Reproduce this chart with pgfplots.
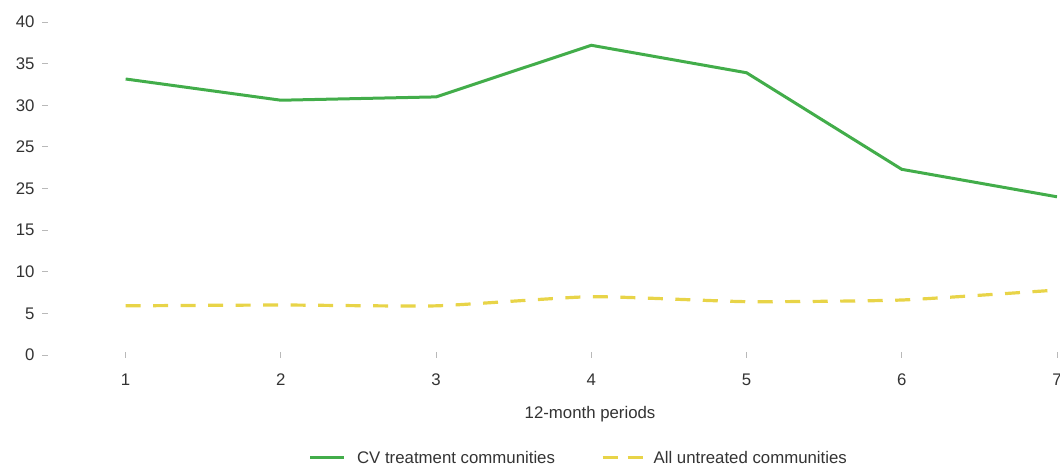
\documentclass[border=0pt]{standalone}
\usepackage{pgfplots}
\pgfplotsset{compat=1.18}
\usepackage{fontspec}
\setmainfont{Liberation Sans}
\definecolor{cvgreen}{RGB}{66,173,74}
\definecolor{untreated}{RGB}{232,212,72}
\definecolor{txt}{RGB}{51,51,51}
\definecolor{tickgray}{RGB}{185,185,185}

\begin{document}
\begin{tikzpicture}
\begin{axis}[
    scale only axis,
    width=1009pt, height=333pt,
    xmin=0.5, xmax=7, ymin=0, ymax=40,
    clip=false,
    axis lines*=left,
    axis line style={draw=none},
    xtick={1,...,7},
    ytick={0,5,...,40},
    yticklabels={0,5,10,15,25,25,30,35,40},
    /pgf/number format/assume math mode=true,
    font=\fontsize{16.8}{20}\selectfont,
    ticklabel style={txt},
    major tick length=6pt,
    tick align=outside,
    tick style={tickgray, line width=0.8pt},
    xtick style={yshift=3pt},
    xticklabel style={anchor=north, yshift=-9pt},
    yticklabel style={anchor=east, xshift=-4pt},
    xlabel={12-month periods},
    xlabel style={at={(rel axis cs:0.5372,-0.177)}, anchor=center, txt},
    legend style={at={(rel axis cs:0.526,-0.309)}, anchor=center, draw=none,
        fill=none, legend columns=-1, text=txt,
        /tikz/every even column/.append style={column sep=44pt}},
]
\addplot[cvgreen, line width=3pt,
    legend image code/.code={\draw[cvgreen, line width=3pt] (0pt,0pt) -- (34pt,0pt);
        \path[draw=none] (0pt,0pt) -- (45pt,0pt);}]
    coordinates {(1,33.15) (2,30.6) (3,31.0) (4,37.2) (5,33.9) (6,22.3) (7,19.0)};
\addlegendentry{CV treatment communities}
\addplot[untreated, line width=3.2pt, smooth, tension=0.3,
    dash pattern=on 15pt off 12.5pt,
    legend image code/.code={\draw[untreated, line width=3.2pt,
        dash pattern=on 15pt off 10pt] (0pt,0pt) -- (40pt,0pt);
        \path[draw=none] (0pt,0pt) -- (49pt,0pt);}]
    coordinates {(1,5.9) (2,6.0) (3,5.9) (4,7.0) (5,6.4) (6,6.6) (7,7.8)};
\addlegendentry{All untreated communities}
\coordinate (bbsw) at (rel axis cs:-0.0476,-0.339);
\coordinate (bbne) at (rel axis cs:1.003,1.066);
\end{axis}
\pgfresetboundingbox
\path[use as bounding box] (bbsw) rectangle (bbne);
\end{tikzpicture}
\end{document}
